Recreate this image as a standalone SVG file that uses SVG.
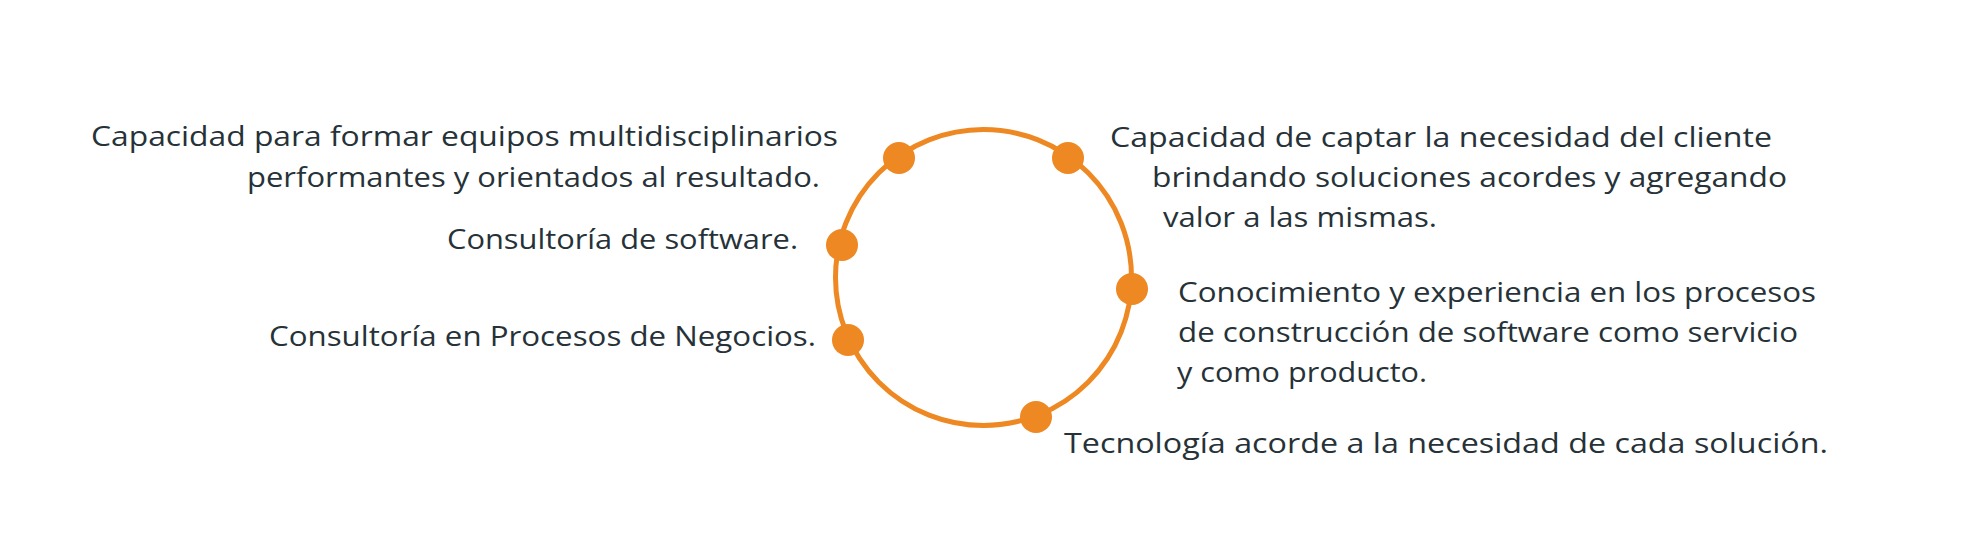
<svg xmlns="http://www.w3.org/2000/svg" width="1966" height="558" viewBox="0 0 1966 558">
<style>
.ring{fill:none;stroke:#EE8822;stroke-width:5}
.dot{fill:#EE8822}
.t{font-family:"Open Sans","Liberation Sans",sans-serif;font-size:27px;fill:#263238}
</style>
<rect width="1966" height="558" fill="#ffffff"/>
<g id="connectors">
<circle class="ring" cx="983.5" cy="277.5" r="148"/>
</g>
<g id="node-equipos">
<circle class="dot" cx="899" cy="158" r="16"/>
<text class="t" x="91" y="146" textLength="747" lengthAdjust="spacingAndGlyphs">Capacidad para formar equipos multidisciplinarios</text>
<text class="t" x="247" y="187" textLength="573" lengthAdjust="spacingAndGlyphs">performantes y orientados al resultado.</text>
</g>
<g id="node-cliente">
<circle class="dot" cx="1068" cy="158" r="16"/>
<text class="t" x="1110" y="147" textLength="662" lengthAdjust="spacingAndGlyphs">Capacidad de captar la necesidad del cliente</text>
<text class="t" x="1152" y="187" textLength="635" lengthAdjust="spacingAndGlyphs">brindando soluciones acordes y agregando</text>
<text class="t" x="1163" y="227" textLength="274" lengthAdjust="spacingAndGlyphs">valor a las mismas.</text>
</g>
<g id="node-software">
<circle class="dot" cx="842" cy="245" r="16"/>
<text class="t" x="447" y="249" textLength="351" lengthAdjust="spacingAndGlyphs">Consultoría de software.</text>
</g>
<g id="node-conocimiento">
<circle class="dot" cx="1132" cy="289" r="16"/>
<text class="t" x="1178" y="302" textLength="638" lengthAdjust="spacingAndGlyphs">Conocimiento y experiencia en los procesos</text>
<text class="t" x="1178" y="342" textLength="620" lengthAdjust="spacingAndGlyphs">de construcción de software como servicio</text>
<text class="t" x="1177" y="382" textLength="250" lengthAdjust="spacingAndGlyphs">y como producto.</text>
</g>
<g id="node-negocios">
<circle class="dot" cx="848" cy="340" r="16"/>
<text class="t" x="269" y="346" textLength="547" lengthAdjust="spacingAndGlyphs">Consultoría en Procesos de Negocios.</text>
</g>
<g id="node-tecnologia">
<circle class="dot" cx="1036" cy="417" r="16"/>
<text class="t" x="1064" y="453" textLength="764" lengthAdjust="spacingAndGlyphs">Tecnología acorde a la necesidad de cada solución.</text>
</g>
</svg>
